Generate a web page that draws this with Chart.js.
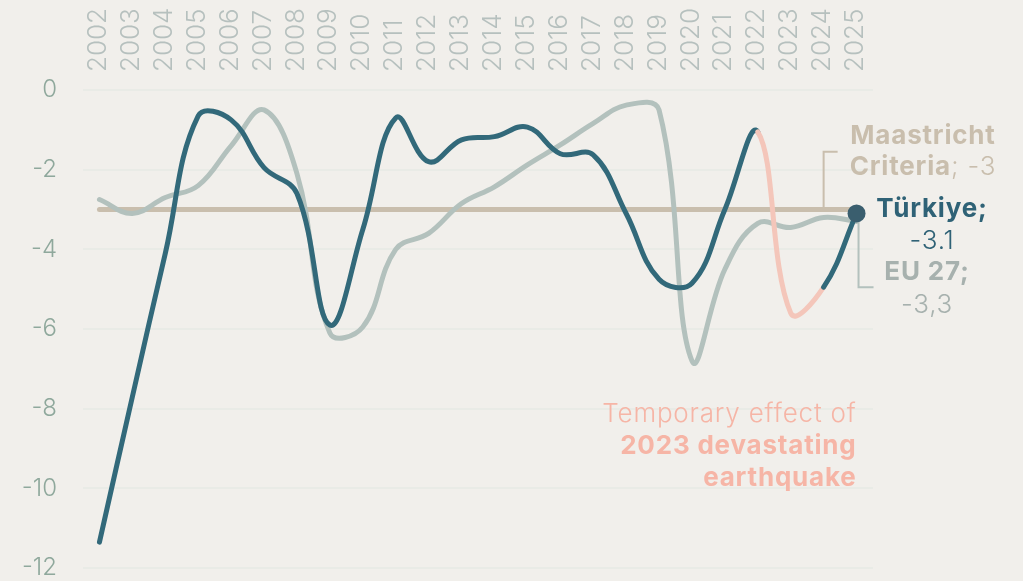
<!DOCTYPE html>
<html>
<head>
<meta charset="utf-8">
<script src="https://cdn.jsdelivr.net/npm/chart.js@4.4.1/dist/chart.umd.min.js"></script>
<style>
  html, body { margin: 0; padding: 0; background: #f1efeb; }
  #wrap { width: 1023px; height: 581px; position: relative; }
</style>
</head>
<body>
<div id="wrap"><canvas id="chart"></canvas></div>
<script>
const years = ["2002","2003","2004","2005","2006","2007","2008","2009","2010","2011","2012","2013",
  "2014","2015","2016","2017","2018","2019","2020","2021","2022","2023","2024","2025"];
const turkiye = [-11.35, -7.7, -4.1, -0.65, -0.75, -1.95, -2.6, -5.9, -3.5, -0.7, -1.8, -1.25,
  -1.17, -0.93, -1.6, -1.63, -3.1, -4.75, -4.85, -3.0, -1.05, -5.6, -4.95, -3.1];
const eu27 = [-2.75, -3.1, -2.7, -2.4, -1.4, -0.5, -2.1, -6.1, -5.95, -4.0, -3.6, -2.85,
  -2.43, -1.88, -1.38, -0.84, -0.38, -0.5, -6.8, -4.5, -3.35, -3.45, -3.2, -3.3];
const maastricht = years.map(() => -3);
const yTicks = [0, -2, -4, -6, -8, -10, -12];

const FONT = "Inter, 'Open Sans', sans-serif";
const teal = "#32697a";
const grey = "#b3c1bd";
const tan = "#c9bead";
const pink = "#f4c6ba";
const pinkText = "#f6b5a6";

// shaded segment 2022 -> 2024
const quakeFrom = years.indexOf("2022");
const quakeTo = years.indexOf("2024");

function drawParts(ctx, parts, cx, y, align) {
  let total = 0;
  parts.forEach(p => { ctx.font = p.font; p.w = ctx.measureText(p.text).width; total += p.w; });
  let x = align === "right" ? cx - total : cx - total / 2;
  ctx.textAlign = "left";
  parts.forEach(p => { ctx.font = p.font; ctx.fillStyle = p.color; ctx.fillText(p.text, x, y); x += p.w; });
}

const notes = {
  id: "notes",
  beforeDraw(chart) {
    const c = chart.ctx;
    c.save();
    c.fillStyle = "#f1efeb";
    c.fillRect(0, 0, chart.width, chart.height);
    c.restore();
  },
  beforeDatasetsDraw(chart) {
    const c = chart.ctx, xs = chart.scales.x, ys = chart.scales.y;
    const last = years.length - 1;
    c.save();
    c.lineWidth = 2;
    // leader for Maastricht
    c.strokeStyle = tan;
    const mx = xs.getPixelForValue(last - 1);
    c.beginPath();
    c.moveTo(mx, ys.getPixelForValue(-3));
    c.lineTo(mx, ys.getPixelForValue(-1.55));
    c.lineTo(mx + 14, ys.getPixelForValue(-1.55));
    c.stroke();
    // leader for EU 27
    c.strokeStyle = grey;
    const ex = xs.getPixelForValue(last) + 2;
    c.beginPath();
    c.moveTo(ex, ys.getPixelForValue(eu27[last]));
    c.lineTo(ex, ys.getPixelForValue(-4.95));
    c.lineTo(ex + 15, ys.getPixelForValue(-4.95));
    c.stroke();
    c.restore();
  },
  afterDraw(chart) {
    const c = chart.ctx, xs = chart.scales.x, ys = chart.scales.y;
    const last = years.length - 1;
    const light = "300 26px " + FONT, bold = "700 26px " + FONT;
    c.save();
    c.textBaseline = "middle";
    c.letterSpacing = "0.8px";
    drawParts(c, [{ text: "Maastricht", font: bold, color: tan }], 923, ys.getPixelForValue(-1.15));
    drawParts(c, [{ text: "Criteria", font: bold, color: tan }, { text: "; -3", font: light, color: tan }], 923, ys.getPixelForValue(-1.95));
    drawParts(c, [{ text: "Türkiye;", font: bold, color: "#2f6276" }], 932, ys.getPixelForValue(-3.0));
    drawParts(c, [{ text: "-3.1", font: light, color: "#2f6276" }], 932, ys.getPixelForValue(-3.8));
    drawParts(c, [{ text: "EU 27;", font: bold, color: "#a7b1ae" }], 927, ys.getPixelForValue(-4.57));
    drawParts(c, [{ text: "-3,3", font: light, color: "#a7b1ae" }], 927, ys.getPixelForValue(-5.4));
    const rx = xs.getPixelForValue(last);
    drawParts(c, [{ text: "Temporary effect of", font: light, color: pinkText }], rx, ys.getPixelForValue(-8.15), "right");
    drawParts(c, [{ text: "2023 devastating", font: bold, color: pinkText }], rx, ys.getPixelForValue(-8.95), "right");
    drawParts(c, [{ text: "earthquake", font: bold, color: pinkText }], rx, ys.getPixelForValue(-9.75), "right");
    c.restore();
  }
};

new Chart(document.getElementById("chart"), {
  type: "line",
  data: {
    labels: years,
    datasets: [
      {
        label: "Türkiye",
        data: turkiye,
        borderColor: teal,
        borderWidth: 5,
        tension: 0.4,
        borderCapStyle: "round",
        pointRadius: ctx => ctx.dataIndex === years.length - 1 ? 9 : 0,
        pointBackgroundColor: "#3a5e6e",
        pointBorderWidth: 0,
        order: 1,
        segment: {
          borderColor: ctx => ctx.p0DataIndex >= quakeFrom && ctx.p0DataIndex < quakeTo ? pink : undefined
        }
      },
      {
        label: "EU 27",
        data: eu27,
        borderColor: grey,
        borderWidth: 5,
        tension: 0.4,
        borderCapStyle: "round",
        pointRadius: 0,
        order: 2
      },
      {
        label: "Maastricht Criteria",
        data: maastricht,
        borderColor: tan,
        borderWidth: 5,
        borderCapStyle: "round",
        pointRadius: 0,
        order: 3
      }
    ]
  },
  options: {
    responsive: true,
    maintainAspectRatio: false,
    animation: false,
    layout: { padding: { left: 0, right: 150, top: 0, bottom: 13 } },
    plugins: { legend: { display: false }, tooltip: { enabled: false } },
    scales: {
      x: {
        position: "top",
        offset: true,
        grid: { display: false, drawTicks: false },
        border: { display: false },
        afterFit: s => { s.height = 90; s.paddingBottom = 0; },
        ticks: {
          minRotation: 90,
          maxRotation: 90,
          autoSkip: false,
          padding: 18,
          labelOffset: 30,
          color: "#b6c0be",
          font: { family: FONT, size: 26, weight: "300" }
        }
      },
      y: {
        min: -12,
        max: 0,
        afterFit: s => { s.width = 83; s.paddingTop = 0; s.paddingBottom = 0; },
        afterBuildTicks: s => { s.ticks = yTicks.map(v => ({ value: v })); },
        grid: { color: "#e9ebe6", lineWidth: 2, drawTicks: false },
        border: { display: false },
        ticks: {
          padding: 26,
          color: "#8fa89c",
          font: { family: FONT, size: 24, weight: "300" }
        }
      }
    }
  },
  plugins: [notes]
});
</script>
</body>
</html>
